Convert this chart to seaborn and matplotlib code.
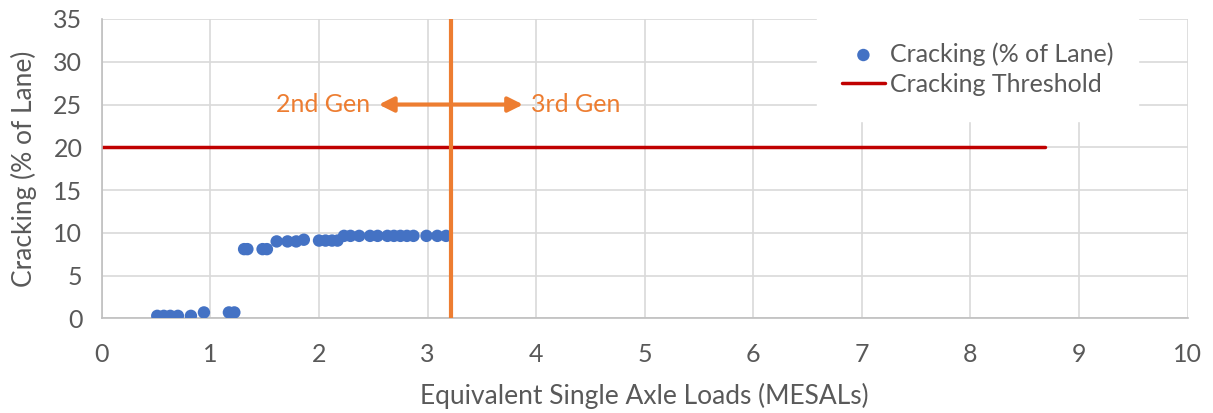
import numpy as np
import pandas as pd
import matplotlib.pyplot as plt
import seaborn as sns

# cracking data
esal = [0.51, 0.57, 0.63, 0.70, 0.82, 0.94, 1.17, 1.22,
        1.31, 1.34, 1.48, 1.52,
        1.61, 1.71, 1.79, 1.86,
        2.00, 2.06, 2.12, 2.17,
        2.23, 2.29, 2.37, 2.47, 2.54, 2.63, 2.69, 2.75, 2.81, 2.87, 2.99, 3.09, 3.17]
cracking = [0.3, 0.3, 0.3, 0.3, 0.3, 0.7, 0.7, 0.7,
            8.1, 8.1, 8.1, 8.1,
            9.0, 9.0, 9.0, 9.2,
            9.1, 9.1, 9.1, 9.1,
            9.65, 9.65, 9.65, 9.65, 9.65, 9.65, 9.65, 9.65, 9.65, 9.65, 9.65, 9.65, 9.65]

thresh_x = [0, 8.69]
thresh_y = [20, 20]
gen_split = 3.22

blue = "#4472C4"
red = "#C00000"
orange = "#ED7D31"
gray = "#595959"

sns.set_style("white")
plt.rcParams['font.family'] = ['Lato', 'DejaVu Sans']

fig = plt.figure(figsize=(12.13, 4.13), dpi=100)
ax = fig.add_axes([0.084, 0.229, 0.895, 0.725])

df = pd.DataFrame({"x": esal, "y": cracking})
sns.scatterplot(data=df, x="x", y="y", ax=ax, color=blue, s=80, edgecolor="none",
                label="Cracking (% of Lane)", zorder=3)
sns.lineplot(x=thresh_x, y=thresh_y, ax=ax, color=red, lw=2.5,
             label="Cracking Threshold", zorder=2)
ax.axvline(gen_split, color=orange, lw=3, zorder=4)

ax.annotate("", xy=(2.55, 25), xytext=(3.88, 25),
            arrowprops=dict(arrowstyle="<|-|>", color=orange, lw=3, mutation_scale=22,
                            shrinkA=0, shrinkB=0), zorder=4)
ax.text(2.47, 25, "2nd Gen", color=orange, fontsize=18, ha="right", va="center")
ax.text(3.95, 25, "3rd Gen", color=orange, fontsize=18, ha="left", va="center")

ax.set_xlim(0, 10)
ax.set_ylim(0, 35)
ax.set_xticks(np.arange(0, 11, 1))
ax.set_yticks(np.arange(0, 36, 5))
ax.grid(True, color="#d9d9d9", lw=1.2)
ax.set_axisbelow(True)
for s in ["top", "right"]:
    ax.spines[s].set_visible(False)
for s in ["left", "bottom"]:
    ax.spines[s].set_color("#bfbfbf")
    ax.spines[s].set_linewidth(1.2)
ax.tick_params(axis="both", labelsize=18, colors=gray, length=0)
ax.tick_params(axis="x", pad=18)
ax.tick_params(axis="y", pad=14)

ax.set_xlabel("Equivalent Single Axle Loads (MESALs)", fontsize=19, color=gray)
ax.set_ylabel("Cracking (% of Lane)", fontsize=19, color=gray)
ax.xaxis.set_label_coords(0.5, -0.215)
ax.yaxis.set_label_coords(-0.06, 0.5)

leg = ax.legend(loc="upper right", bbox_to_anchor=(0.943, 0.965), frameon=True, fontsize=18,
                handlelength=1.7, handletextpad=0.2, labelspacing=0.3, borderpad=0.5,
                borderaxespad=0)
leg.get_frame().set_edgecolor("white")
leg.get_frame().set_facecolor("white")
leg.get_frame().set_alpha(1)
leg.get_frame().set_boxstyle("square", pad=0.5)
for t in leg.get_texts():
    t.set_color(gray)

fig.savefig("out.png", dpi=100)
